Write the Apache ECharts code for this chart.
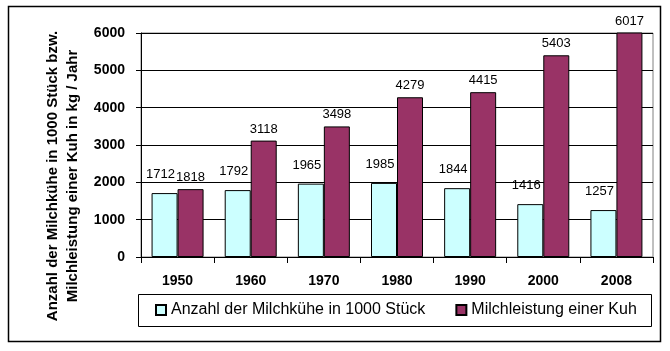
<!DOCTYPE html>
<html>
<head>
<meta charset="utf-8">
<script src="https://cdn.jsdelivr.net/npm/echarts@6/dist/echarts.min.js"></script>
<style>
  html, body { margin: 0; padding: 0; background: #fff; }
  #myChart { width: 670px; height: 351px; }
</style>
</head>
<body>
<div id="myChart"></div>
<script>
var years = ['1950', '1960', '1970', '1980', '1990', '2000', '2008'];
var kuehe = [1712, 1792, 1965, 1985, 1844, 1416, 1257];
var leistung = [1818, 3118, 3498, 4279, 4415, 5403, 6017];
var yTicks = [0, 1000, 2000, 3000, 4000, 5000, 6000];

var fontName = 'Arial, "Liberation Sans", sans-serif';

var myChart = echarts.init(document.getElementById('myChart'), null, { renderer: 'canvas' });

var option = {
    animation: false,
    backgroundColor: '#fff',
    textStyle: { fontFamily: fontName },
    grid: {
        left: 141,
        right: 17,
        top: 33,
        bottom: 94,
        show: true,
        borderColor: '#808080',
        borderWidth: 1,
        backgroundColor: '#fff'
    },
    legend: {
        left: 155,
        top: 302,
        padding: 0,
        itemWidth: 10,
        itemHeight: 10,
        itemGap: 30,
        icon: 'rect',
        textStyle: { fontSize: 16, color: '#000', fontFamily: fontName },
        data: ['Anzahl der Milchkühe in 1000 Stück', 'Milchleistung einer Kuh']
    },
    xAxis: {
        type: 'category',
        data: years,
        axisLine: { lineStyle: { color: '#000', width: 1 } },
        axisTick: { show: true, length: 6, alignWithLabel: false, lineStyle: { color: '#000' } },
        axisLabel: { margin: 17, fontSize: 14, fontWeight: 'bold', color: '#000', fontFamily: fontName }
    },
    yAxis: {
        type: 'value',
        min: yTicks[0],
        max: yTicks[yTicks.length - 1],
        interval: 1000,
        axisLine: { show: true, lineStyle: { color: '#000', width: 1 } },
        axisTick: { show: true, length: 5, lineStyle: { color: '#000' } },
        axisLabel: {
            margin: 16,
            fontSize: 14,
            fontWeight: 'bold',
            color: '#000',
            fontFamily: fontName,
            formatter: function (v) { return String(v); } // ohne Tausenderpunkt
        },
        splitLine: { lineStyle: { color: '#000', width: 1 } }
    },
    series: [{
        name: 'Anzahl der Milchkühe in 1000 Stück',
        type: 'bar',
        data: kuehe,
        barWidth: 26,
        barGap: '0%',
        itemStyle: { color: '#CCFFFF', borderColor: '#000', borderWidth: 1 },
        label: {
            show: true,
            position: 'top',
            distance: 12,
            offset: [-4, 0],
            fontSize: 13,
            color: '#000',
            fontFamily: fontName
        }
    }, {
        name: 'Milchleistung einer Kuh',
        type: 'bar',
        data: leistung,
        barWidth: 26,
        barGap: '0%',
        itemStyle: { color: '#993366', borderColor: '#000', borderWidth: 1 },
        label: {
            show: true,
            position: 'top',
            distance: 5,
            fontSize: 13,
            color: '#000',
            fontFamily: fontName
        }
    }],
    graphic: [{
        // Rahmen um das ganze Diagramm
        type: 'rect',
        z: 100,
        shape: { x: 8.5, y: 6.5, width: 652, height: 335 },
        style: { fill: 'none', stroke: '#000', lineWidth: 1.5 }
    }, {
        // Rahmen der Legende
        type: 'rect',
        z: 100,
        shape: { x: 138.5, y: 294.5, width: 513, height: 32 },
        style: { fill: 'none', stroke: '#000', lineWidth: 1 }
    }, {
        type: 'text',
        z: 100,
        x: 63,
        y: 176,
        rotation: Math.PI / 2,
        style: {
            text: 'Anzahl der Milchkühe in 1000 Stück bzw.\nMilchleistung einer Kuh in kg / Jahr',
            font: 'bold 15px ' + fontName,
            fill: '#000',
            align: 'center',
            verticalAlign: 'middle',
            lineHeight: 20
        }
    }]
};

myChart.setOption(option);
</script>
</body>
</html>
